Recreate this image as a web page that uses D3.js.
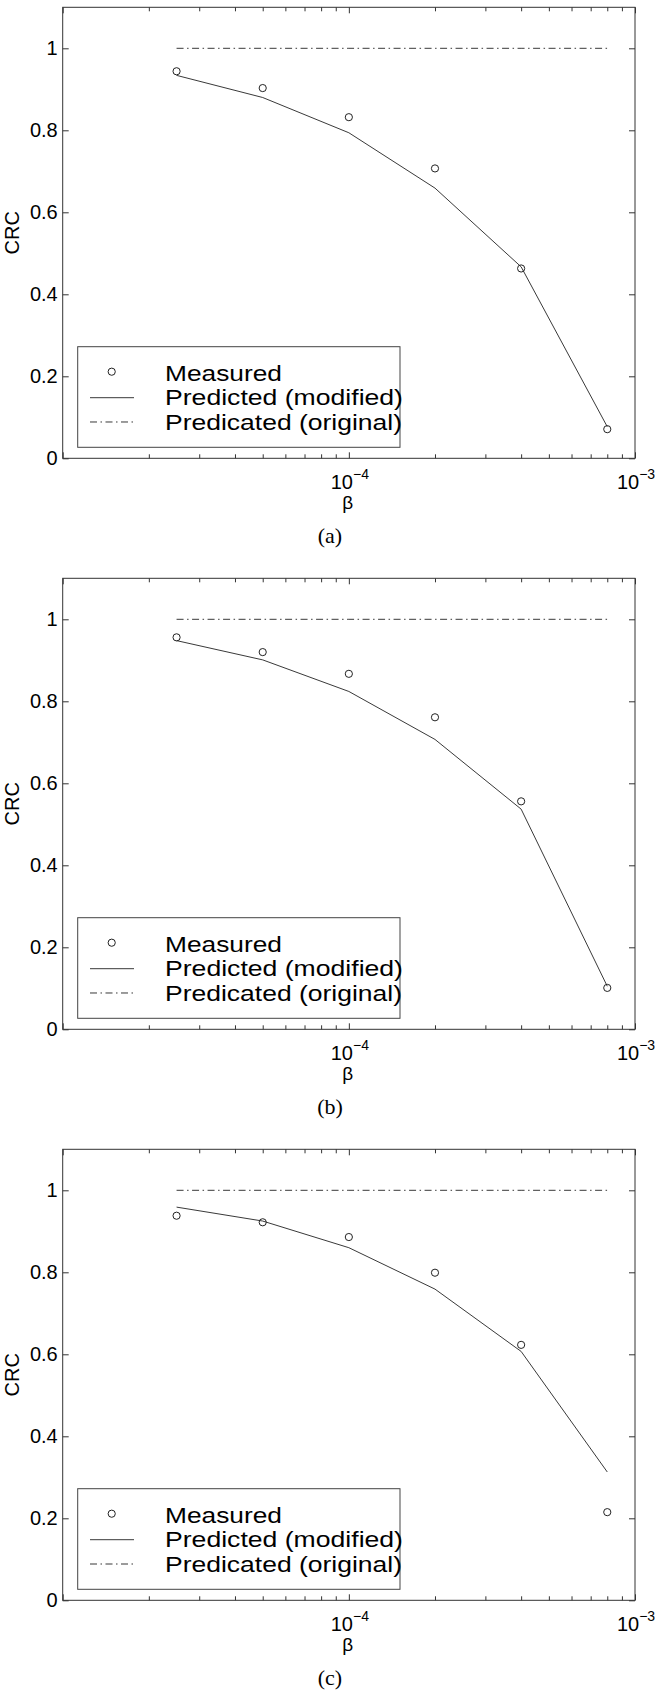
<!DOCTYPE html>
<html>
<head>
<meta charset="utf-8">
<script src="https://cdn.jsdelivr.net/npm/d3@7/dist/d3.min.js"></script>
<style>
  body { margin: 0; background: #fff; }
  svg { display: block; }
  text { font-family: "Liberation Sans", Arial, Helvetica, sans-serif; }
  text.caption { font-family: "Liberation Serif", "Times New Roman", serif; }
</style>
</head>
<body>
<div id="chart"></div>
<script>
// beta values shared by all three panels
const betas = [2.5e-5, 5e-5, 1e-4, 2e-4, 4e-4, 8e-4];

// CRC values
const measuredA = [0.944, 0.903, 0.832, 0.707, 0.463, 0.071];
const predictedA = [0.934, 0.880, 0.794, 0.659, 0.467, 0.077];
const measuredB = [0.956, 0.920, 0.867, 0.761, 0.556, 0.101];
const predictedB = [0.948, 0.901, 0.824, 0.707, 0.537, 0.105];
const measuredC = [0.938, 0.922, 0.886, 0.799, 0.623, 0.215];
const predictedC = [0.959, 0.925, 0.860, 0.759, 0.607, 0.313];
const original = [1, 1, 1, 1, 1, 1];

const yTicks = [0, 0.2, 0.4, 0.6, 0.8, 1];
const yTickLabels = ["0", "0.2", "0.4", "0.6", "0.8", "1"];
const xMajor = [1e-5, 1e-4, 1e-3];
const xLabelled = [1e-4, 1e-3];
const xExponents = ["\u22124", "\u22123"];
const xMinor = [2e-5, 3e-5, 4e-5, 5e-5, 6e-5, 7e-5, 8e-5, 9e-5,
                2e-4, 3e-4, 4e-4, 5e-4, 6e-4, 7e-4, 8e-4, 9e-4];
const legendLabels = ["Measured", "Predicted (modified)", "Predicated (original)"];
const captions = ["(a)", "(b)", "(c)"];

const panels = [
  { measured: measuredA, predicted: predictedA, caption: captions[0] },
  { measured: measuredB, predicted: predictedB, caption: captions[1] },
  { measured: measuredC, predicted: predictedC, caption: captions[2] }
];

const W = 655, H = 1691;
const margin = { top: 7.3, left: 62.7 };
const width = 572.3, height = 451;
const panelStep = 571;
const ink = "#222";

const svg = d3.select("#chart").append("svg")
    .attr("width", W)
    .attr("height", H);

const x = d3.scaleLog().domain([1e-5, 1e-3]).range([0, width]);
const y = d3.scaleLinear().domain([0, 1.1]).range([height, 0]);

panels.forEach((p, i) => {
    const g = svg.append("g")
        .attr("transform", "translate(" + margin.left + "," + (margin.top + i * panelStep) + ")");

    // frame
    g.append("rect")
        .attr("width", width).attr("height", height)
        .attr("fill", "none").attr("stroke", "#333").attr("stroke-width", 1);

    // ticks pointing inward on all four sides
    const addAxis = (axis, tr) => {
        const a = g.append("g").attr("transform", tr).call(axis);
        a.select(".domain").remove();
        a.attr("font-family", null);
        a.selectAll(".tick line").attr("stroke", "#333");
        return a;
    };
    addAxis(d3.axisBottom(x).tickValues(xMajor).tickSize(-6).tickFormat(""), "translate(0," + height + ")");
    addAxis(d3.axisTop(x).tickValues(xMajor).tickSize(-6).tickFormat(""), "translate(0,0)");
    addAxis(d3.axisBottom(x).tickValues(xMinor).tickSize(-4).tickFormat(""), "translate(0," + height + ")");
    addAxis(d3.axisTop(x).tickValues(xMinor).tickSize(-4).tickFormat(""), "translate(0,0)");
    const yAxis = addAxis(d3.axisLeft(y).tickValues(yTicks).tickSize(-6).tickPadding(5)
        .tickFormat((d, k) => yTickLabels[k]), "translate(0,0)");
    yAxis.attr("font-size", 20);
    yAxis.selectAll(".tick text").attr("fill", "#000");
    addAxis(d3.axisRight(y).tickValues(yTicks).tickSize(-6).tickFormat(""), "translate(" + width + ",0)");

    // x tick labels with superscript exponent
    xLabelled.forEach((v, k) => {
        const t = g.append("text")
            .attr("x", x(v) + 1)
            .attr("y", height + 30.5)
            .attr("text-anchor", "middle")
            .attr("font-size", 20)
            .attr("fill", "#000");
        t.append("tspan").text("10");
        t.append("tspan").attr("dy", -10).attr("font-size", 14).text(xExponents[k]);
    });

    // axis titles
    g.append("text")
        .attr("x", x(1e-4) - 1)
        .attr("y", height + 51)
        .attr("text-anchor", "middle")
        .attr("font-size", 19)
        .text("\u03b2");
    g.append("text")
        .attr("transform", "translate(" + (-44) + "," + (height / 2) + ") rotate(-90)")
        .attr("text-anchor", "middle")
        .attr("font-size", 20)
        .text("CRC");

    // caption under the panel
    g.append("text")
        .attr("class", "caption")
        .attr("x", 330 - margin.left)
        .attr("y", height + 85)
        .attr("text-anchor", "middle")
        .attr("font-size", 22)
        .text(p.caption);

    const line = d3.line()
        .x((d, k) => x(betas[k]))
        .y(d => y(d));

    // original prediction (dash-dot)
    g.append("path")
        .datum(original)
        .attr("d", line)
        .attr("fill", "none")
        .attr("stroke", ink)
        .attr("stroke-width", 0.9)
        .attr("stroke-dasharray", "7,3.5,1.5,3.5");

    // modified prediction (solid)
    g.append("path")
        .datum(p.predicted)
        .attr("d", line)
        .attr("fill", "none")
        .attr("stroke", ink)
        .attr("stroke-width", 0.9);

    // measured points
    g.selectAll(".meas")
        .data(p.measured)
        .enter().append("circle")
        .attr("class", "meas")
        .attr("cx", (d, k) => x(betas[k]))
        .attr("cy", d => y(d))
        .attr("r", 3.6)
        .attr("fill", "none")
        .attr("stroke", ink)
        .attr("stroke-width", 1);

    // legend
    const lg = g.append("g").attr("transform", "translate(15,339.4)");
    lg.append("rect")
        .attr("width", 322.3).attr("height", 100.6)
        .attr("fill", "#fff").attr("stroke", "#444").attr("stroke-width", 1);
    lg.append("circle")
        .attr("cx", 34).attr("cy", 25)
        .attr("r", 3.6).attr("fill", "none").attr("stroke", ink);
    lg.append("line")
        .attr("x1", 12.3).attr("x2", 56.3).attr("y1", 51).attr("y2", 51)
        .attr("stroke", ink).attr("stroke-width", 0.9);
    lg.append("line")
        .attr("x1", 12.3).attr("x2", 56.3).attr("y1", 75.3).attr("y2", 75.3)
        .attr("stroke", ink).attr("stroke-width", 0.9)
        .attr("stroke-dasharray", "7,3.5,1.5,3.5");
    const lgWidths = [117, 238, 237];
    lg.selectAll(".lgText")
        .data(legendLabels)
        .enter().append("text")
        .attr("class", "lgText")
        .attr("x", 87.3)
        .attr("y", (d, k) => 34 + k * 24.7)
        .attr("font-size", 21.4)
        .attr("textLength", (d, k) => lgWidths[k])
        .attr("lengthAdjust", "spacingAndGlyphs")
        .text(d => d);
});
</script>
</body>
</html>
